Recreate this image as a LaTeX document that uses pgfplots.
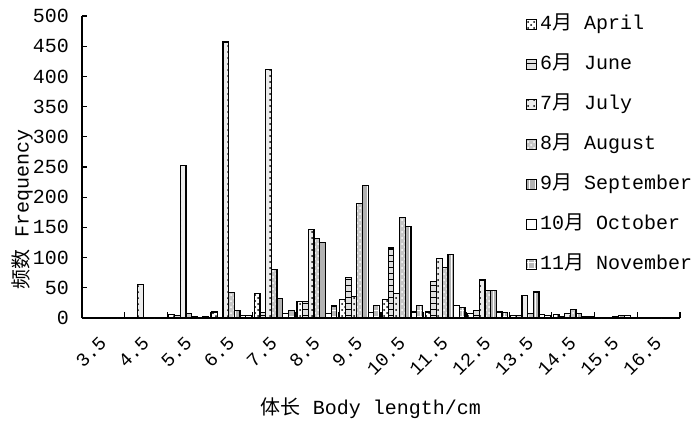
\documentclass[border=0pt]{standalone}
\usepackage{fontspec}
\setmainfont{Liberation Mono}
\newfontfamily\cjk{Noto Sans CJK SC}
\usepackage{pgfplots}
\usepackage{pgfplotstable}
\pgfplotsset{compat=1.18}
\usetikzlibrary{patterns}

% frequency by body-length class (x = 0..13 -> 3.5 .. 16.5 cm)
\pgfplotstableread{
x  Apr Jun Jul Aug Sep Oct Nov
0  0   0   0   0   0   0   0
1  0   0   56  0   0   0   0
2  6   4   253 8   3   0   3
3  10  0   457 42  13  4   4
4  41  9   412 80  32  7   13
5  27  27  146 131 125 8   20
6  31  67  36  190 220 9   21
7  31  116 41  166 152 10  21
8  10  60  99  84  105 21  18
9  8   13  63  46  45  10  9
10 4   4   37  8   43  6   4
11 6   3   8   14  8   3   2
12 0   0   0   3   4   4   0
13 0   0   0   0   0   0   0
}\freq

\begin{document}
\begin{tikzpicture}
\useasboundingbox (0,0) rectangle (350pt,212pt);
\begin{axis}[
    at={(41pt,53pt)}, anchor=south west,
    scale only axis,
    width=299pt, height=151pt,
    ybar, bar width=0.1333,
    xmin=-0.5, xmax=13.5,
    ymin=0, ymax=500,
    enlargelimits=false,
    axis lines*=left,
    axis line style={line width=1pt},
    tick align=inside,
    xtick={0,...,13},
    xticklabels={3.5,4.5,5.5,6.5,7.5,8.5,9.5,10.5,11.5,12.5,13.5,14.5,15.5,16.5},
    major x tick style={draw=none},
    minor xtick={-0.5,0.5,...,13.5},
    minor tick length=3pt,
    minor x tick style={black, line width=0.6pt},
    ytick={0,50,...,500},
    major tick length=2.5pt,
    major y tick style={black, line width=0.6pt},
    /pgf/number format/assume math mode=true,
    xticklabel style={yshift=-11pt, rotate=45, anchor=east, inner sep=0pt,
        font=\fontsize{9.5}{11}\selectfont},
    yticklabel style={xshift=-3pt},
    xlabel={{\cjk 体长} Body length/cm},
    xlabel style={at={(axis description cs:0.483,-0.298)}, anchor=center},
    ylabel={{\cjk 频数} Frequency},
    ylabel style={at={(axis description cs:-0.10,0.358)}, anchor=center},
    legend cell align=left,
    legend image code/.code={\draw[#1, line width=0.5pt] (0pt,-2.5pt) rectangle (5pt,2.5pt);
        \path (5.8pt,0pt);},
    legend style={at={(axis description cs:0.741,1.01)}, anchor=north west,
        draw=none, fill=none, inner sep=0pt, row sep=9pt,
        nodes={inner sep=1pt, text height=7pt, text depth=2pt}},
    every axis plot/.append style={draw=black, line width=0.6pt},
]
\addplot[bar shift=-0.4, fill=white, postaction={pattern=crosshatch dots}]
    table[x=x, y=Apr] {\freq};
\addplot[bar shift=-0.2667, fill=gray!25, postaction={pattern=horizontal lines}]
    table[x=x, y=Jun] {\freq};
\addplot[bar shift=-0.1333, fill=gray!15, postaction={pattern=dots}]
    table[x=x, y=Jul] {\freq};
\addplot[bar shift=0, fill=gray!45, postaction={pattern=crosshatch dots, pattern color=white}]
    table[x=x, y=Aug] {\freq};
\addplot[bar shift=0.1333, fill=gray!60, postaction={pattern=vertical lines, pattern color=white}]
    table[x=x, y=Sep] {\freq};
\addplot[bar shift=0.2667, fill=white]
    table[x=x, y=Oct] {\freq};
\addplot[bar shift=0.4, fill=gray!55, postaction={pattern=grid, pattern color=white}]
    table[x=x, y=Nov] {\freq};
\legend{4{\cjk 月} April, 6{\cjk 月} June, 7{\cjk 月} July, 8{\cjk 月} August,
        9{\cjk 月} September, 10{\cjk 月} October, 11{\cjk 月} November}
\end{axis}
\end{tikzpicture}
\end{document}
